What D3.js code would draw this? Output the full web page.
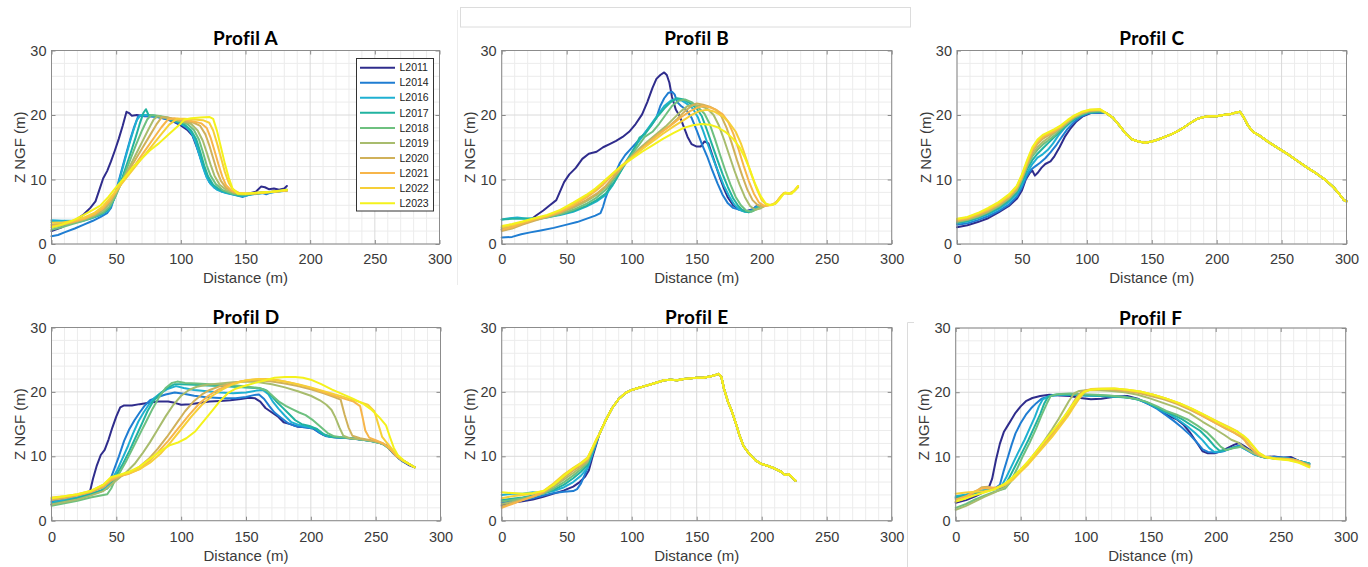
<!DOCTYPE html>
<html>
<head>
<meta charset="utf-8">
<script src="https://cdn.jsdelivr.net/npm/d3@7"></script>
<style>
  html, body { margin: 0; padding: 0; background: #fff; }
  svg { display: block; }
  text { font-variant-ligatures: none; font-feature-settings: "liga" 0; }
</style>
</head>
<body>
<svg id="chart" width="1368" height="567"></svg>
<script>
// Survey years (one line per year in every profile)
const years = ["L2011", "L2014", "L2016", "L2017", "L2018", "L2019", "L2020", "L2021", "L2022", "L2023"];
const titles = ["Profil A", "Profil B", "Profil C", "Profil D", "Profil E", "Profil F"];
const xTicks = [0, 50, 100, 150, 200, 250, 300];
const yTicks = [0, 10, 20, 30];

// Profile A : [distance (m), Z NGF (m)] per year
const profilA = [
  [[0,2.0],[8,2.6],[15,3.3],[20,3.9],[25,4.6],[30,5.6],[34,6.6],[37,8.4],[40,10.2],[43,11.3],[46,12.8],[49,14.5],[52,16.3],[55,18.3],[58,20.5],[60,20.3],[62,19.9],[66,20.0],[72,19.8],[80,19.8],[88,19.4],[95,18.9],[100,18.4],[105,17.7],[109,16.8],[112,15.2],[115,13.5],[118,11.8],[121,10.2],[124,9.2],[128,8.6],[134,8.1],[140,7.8],[147,7.5],[152,7.8],[158,8.1],[162,8.9],[165,8.8],[168,8.5],[172,8.6],[176,8.4],[180,8.6],[182,9.0]],
  [[0,1.2],[5,1.4],[10,1.8],[18,2.4],[25,3.0],[32,3.6],[38,4.2],[43,4.8],[46,5.6],[49,7.5],[52,9.8],[55,12],[58,14.2],[61,16.3],[64,18.2],[67,19.8],[70,19.9],[76,19.8],[84,19.6],[92,19.2],[100,18.6],[106,17.8],[110,16.6],[113,14.8],[116,12.8],[119,10.9],[122,9.6],[126,8.7],[132,8.1],[140,7.7],[148,7.3],[155,7.8],[162,8.0],[166,7.7],[170,8.0],[176,8.2],[182,8.4]],
  [[0,3.7],[8,3.6],[15,3.6],[22,3.5],[30,3.9],[38,4.5],[44,5.2],[48,6.8],[51,8.8],[54,11],[57,13.2],[60,15.4],[63,17.4],[66,19.2],[69,20.0],[74,20.0],[82,19.8],[90,19.4],[98,18.9],[104,18.2],[108,17.3],[111,16],[114,14],[117,12],[120,10.3],[123,9.3],[128,8.4],[135,7.9],[142,7.6],[148,7.4],[155,7.7],[165,7.9],[175,8.1],[182,8.3]],
  [[0,3.4],[8,3.3],[16,3.4],[25,3.7],[33,4.2],[40,4.8],[45,5.6],[49,7.2],[53,9.3],[57,11.6],[61,14],[65,16.5],[68,18.5],[71,20.3],[73,20.9],[75,20.0],[80,19.9],[88,19.6],[96,19.1],[103,18.5],[108,17.6],[112,16.2],[115,14.3],[118,12.2],[121,10.5],[125,9.2],[130,8.4],[137,7.9],[145,7.5],[152,7.6],[162,7.9],[172,8.1],[182,8.3]],
  [[0,2.2],[8,2.6],[16,3.1],[25,3.6],[33,4.2],[40,4.9],[45,5.8],[50,7.6],[55,10],[60,12.6],[65,15.2],[70,17.6],[74,19.3],[77,20.0],[82,19.9],[90,19.6],[98,19.1],[105,18.6],[110,17.7],[114,16.2],[117,14.3],[120,12.2],[123,10.6],[127,9.3],[132,8.4],[140,7.8],[148,7.6],[156,7.8],[166,8.0],[176,8.2],[182,8.4]],
  [[0,2.5],[8,2.9],[16,3.3],[25,3.8],[33,4.4],[40,5.2],[46,6.5],[52,8.6],[58,11],[64,13.4],[70,15.8],[75,17.8],[79,19.3],[82,19.8],[88,19.6],[95,19.3],[102,19.0],[108,18.6],[113,17.6],[117,16],[120,14.2],[123,12.3],[126,10.6],[130,9.2],[135,8.4],[142,7.9],[150,7.7],[160,7.9],[170,8.1],[182,8.3]],
  [[0,3.0],[8,3.1],[16,3.4],[25,3.9],[33,4.6],[40,5.5],[46,6.9],[52,8.8],[58,10.8],[64,12.8],[70,14.8],[76,16.8],[81,18.5],[85,19.6],[90,19.6],[97,19.3],[104,19.0],[110,18.8],[115,18.3],[119,17],[122,15.3],[125,13.3],[128,11.3],[131,9.8],[135,8.7],[141,8.0],[148,7.8],[158,7.9],[170,8.1],[182,8.3]],
  [[0,2.8],[8,3.0],[16,3.4],[25,3.9],[33,4.6],[40,5.6],[46,7.0],[52,8.8],[58,10.5],[65,12.4],[72,14.4],[79,16.4],[85,18.1],[90,19.3],[95,19.5],[102,19.3],[110,19.0],[116,18.7],[120,18.0],[123,16.5],[126,14.5],[129,12.4],[132,10.5],[135,9.1],[139,8.3],[145,7.9],[152,7.8],[162,7.9],[172,8.1],[182,8.3]],
  [[0,3.3],[8,3.3],[16,3.6],[25,4.1],[33,4.8],[40,5.9],[46,7.3],[53,9.0],[60,10.8],[68,12.8],[76,14.8],[84,16.8],[91,18.5],[97,19.4],[103,19.4],[110,19.3],[117,19.2],[122,18.8],[125,17.6],[128,15.6],[131,13.4],[134,11.2],[137,9.5],[140,8.5],[145,7.9],[152,7.8],[162,7.9],[172,8.1],[182,8.3]],
  [[0,2.6],[8,3.0],[16,3.6],[25,4.5],[32,5.3],[38,6.0],[44,7.3],[50,8.8],[57,10.4],[63,11.9],[70,13.3],[76,14.5],[83,15.6],[89,16.7],[95,17.8],[100,18.7],[103,19.3],[108,19.5],[115,19.6],[122,19.7],[125,19.4],[128,17.5],[131,15],[134,12.5],[137,10.3],[140,8.6],[144,7.8],[150,7.8],[160,8.0],[170,8.1],[182,8.4]]
];

// Profile B
const profilB = [
  [[0,2.2],[8,2.6],[15,3.1],[22,3.7],[27,4.5],[32,5.2],[37,6],[42,6.8],[45,8.2],[48,9.6],[52,10.8],[57,11.8],[62,13.2],[67,14],[73,14.3],[78,15],[83,15.5],[88,16],[93,16.6],[98,17.4],[103,18.6],[108,20.1],[112,22],[116,24.2],[119,25.6],[122,26.2],[125,26.6],[127,26.2],[129,25],[131,22.8],[134,20.8],[137,19.8],[140,18.2],[143,16.6],[146,15.5],[150,15.1],[153,15.1],[156,15.9],[159,15.6],[162,13.8],[165,12],[168,10.2],[171,8.6],[174,7.2],[178,6],[183,5.3],[188,5.1],[193,5.4],[197,6.0]],
  [[0,1.0],[8,1.1],[15,1.5],[22,1.8],[30,2.1],[40,2.5],[50,3.0],[58,3.4],[65,3.9],[72,4.4],[76,4.8],[78,5.8],[80,7.2],[83,8.8],[87,10.8],[91,12.6],[95,13.8],[100,14.9],[105,16],[110,17.2],[115,18.4],[119,19.6],[122,21.4],[125,22.6],[128,23.4],[131,23.6],[133,23.2],[135,22],[138,21.4],[142,20.8],[146,19.6],[150,17.6],[154,15.5],[158,13.6],[162,11.4],[166,9.4],[170,7.6],[174,6.3],[178,5.6],[183,5.3],[188,5.0],[193,5.3],[197,6.0]],
  [[0,3.8],[6,4.0],[12,4.1],[20,3.9],[28,4.0],[36,4.2],[45,4.5],[55,5.0],[65,5.8],[73,6.6],[80,7.6],[85,9.0],[90,10.8],[95,12.6],[100,14.2],[105,15.8],[110,17.2],[115,18.6],[120,20],[125,21.4],[130,22.2],[134,22.5],[138,22.3],[142,21.8],[147,21],[151,19.6],[155,17.5],[159,15.2],[163,13],[167,11],[171,9],[175,7.4],[179,6.1],[183,5.3],[187,5.0],[192,5.1],[197,5.8]],
  [[0,3.8],[8,3.9],[16,3.9],[25,4.0],[35,4.2],[45,4.6],[55,5.1],[65,5.9],[73,6.8],[80,7.8],[86,9.4],[92,11.4],[98,13.4],[103,15.2],[106,16.5],[110,17],[115,18.4],[120,19.8],[125,21],[130,22],[135,22.6],[140,22.4],[145,21.8],[150,21],[154,19.8],[158,17.6],[162,15.3],[166,13],[170,10.8],[174,8.8],[178,7.1],[182,5.9],[186,5.1],[190,4.9],[195,5.3],[199,6.0]],
  [[0,2.6],[8,2.9],[16,3.3],[25,3.7],[35,4.1],[45,4.6],[55,5.3],[65,6.2],[73,7.2],[80,8.4],[87,10.2],[93,12],[99,13.6],[105,15.2],[110,16.6],[116,17.4],[121,18.6],[126,20],[131,21.4],[136,22.2],[141,22.4],[146,22],[151,21.2],[156,20.2],[160,18.6],[164,16.3],[168,13.8],[172,11.4],[176,9.2],[180,7.3],[184,6.0],[188,5.2],[192,5.0],[197,5.5],[200,6.0]],
  [[0,2.4],[8,2.8],[16,3.3],[25,3.8],[35,4.2],[45,4.8],[55,5.6],[65,6.6],[73,7.6],[80,8.8],[87,10.6],[93,12.2],[100,13.6],[107,15],[114,16.2],[120,17.2],[126,18.2],[132,19.4],[138,20.6],[143,21.4],[148,21.6],[153,21.4],[158,21],[163,20],[167,18.4],[171,16.2],[175,13.8],[179,11.4],[183,9.2],[187,7.3],[191,5.9],[195,5.3],[199,5.5],[203,6.0]],
  [[0,2.0],[8,2.4],[16,3.0],[25,3.6],[35,4.2],[45,4.9],[55,5.8],[65,6.8],[73,7.8],[80,9.0],[87,10.6],[94,12.2],[101,13.6],[108,15],[115,16.2],[122,17.3],[129,18.3],[135,19.4],[141,20.6],[146,21.4],[150,21.8],[155,21.6],[160,21.3],[165,20.8],[169,19.8],[173,18],[177,15.6],[181,13],[185,10.6],[189,8.4],[193,6.8],[197,6.0],[201,5.8],[205,6.0],[210,6.2],[214,7.2],[217,7.9],[221,7.8],[225,8.2],[228,8.8]],
  [[0,2.2],[8,2.6],[16,3.2],[25,3.8],[35,4.3],[45,5.0],[55,6.0],[65,7.2],[72,8.2],[78,9.2],[85,10.6],[92,12],[100,13.4],[108,14.8],[116,16.2],[124,17.5],[132,18.7],[139,19.8],[145,20.6],[150,21.1],[155,21.4],[160,21.2],[165,20.8],[170,20.1],[174,19],[178,17.2],[182,14.8],[186,12.2],[190,9.8],[194,7.8],[198,6.4],[202,5.9],[206,6.0],[210,6.2],[214,7.2],[217,7.9],[221,7.8],[225,8.2],[228,8.9]],
  [[0,2.6],[8,2.9],[16,3.4],[25,3.9],[35,4.4],[45,5.2],[55,6.2],[65,7.4],[72,8.4],[78,9.6],[85,10.8],[92,12.1],[100,13.4],[108,14.7],[116,15.9],[124,17.1],[132,18.2],[140,19.2],[146,20],[152,20.6],[158,20.8],[164,20.5],[170,19.8],[175,18.8],[180,17.4],[184,15.6],[188,13.3],[192,10.8],[196,8.6],[200,6.8],[204,6.0],[208,6.1],[212,6.6],[215,7.5],[218,8.0],[222,7.8],[225,8.3],[228,9.0]],
  [[0,2.8],[8,3.1],[16,3.5],[25,4.0],[35,4.5],[45,5.3],[55,6.4],[65,7.6],[72,8.6],[78,9.6],[85,10.9],[92,12.1],[100,13.2],[108,14.3],[116,15.3],[124,16.3],[132,17.2],[140,18],[147,18.4],[154,18.6],[160,18.5],[166,18.1],[172,17.4],[178,16.3],[183,15],[187,13.4],[191,11.5],[195,9.3],[199,7.5],[203,6.3],[207,6.0],[211,6.3],[214,7.0],[217,7.8],[220,7.9],[223,7.8],[226,8.4],[228,9.0]]
];

// Profile C : seaward slope per year, then a common dune ridge
const profilCLeft = [
  [[0,2.6],[8,2.9],[16,3.4],[24,4.0],[32,4.9],[40,5.9],[46,7.0],[50,8.3],[53,10],[56,11],[58,11.4],[60,10.6],[62,11.0],[65,11.8],[68,12.4],[72,12.8],[75,13.6],[79,15],[83,16.6],[87,17.8],[92,19],[97,19.8],[103,20.3],[110,20.4]],
  [[0,3.0],[8,3.2],[16,3.7],[24,4.3],[32,5.1],[40,6.1],[46,7.3],[50,8.8],[54,10.6],[57,11.5],[60,12.0],[64,12.6],[68,13.3],[72,14.2],[76,15.2],[80,16.4],[85,17.8],[90,18.9],[96,19.8],[102,20.3],[110,20.4]],
  [[0,3.2],[8,3.5],[16,4.0],[24,4.6],[32,5.4],[40,6.5],[46,7.7],[50,9.2],[54,11.0],[58,12.4],[62,13.4],[66,13.9],[70,14.6],[74,15.6],[78,16.8],[83,18],[88,19],[94,19.8],[100,20.3],[110,20.5]],
  [[0,3.3],[8,3.6],[16,4.1],[24,4.8],[32,5.6],[40,6.8],[46,8.0],[50,9.6],[54,11.6],[58,13],[62,14],[66,14.8],[70,15.6],[75,16.6],[80,17.6],[85,18.5],[90,19.3],[96,20],[102,20.4],[110,20.5]],
  [[0,3.4],[8,3.7],[16,4.2],[24,4.9],[32,5.8],[40,7.0],[46,8.3],[50,10],[54,12],[58,13.6],[62,14.6],[66,15.4],[70,16.0],[75,16.8],[80,17.8],[85,18.7],[90,19.5],[96,20.1],[102,20.5],[110,20.6]],
  [[0,3.5],[8,3.8],[16,4.3],[24,5.0],[32,5.9],[40,7.1],[46,8.4],[50,10.1],[54,12.1],[58,13.9],[62,15],[66,15.8],[70,16.4],[75,17.2],[80,18],[85,18.8],[90,19.6],[96,20.2],[102,20.6],[110,20.7]],
  [[0,3.6],[8,3.9],[16,4.5],[24,5.2],[32,6.1],[40,7.3],[46,8.6],[50,10.3],[54,12.4],[58,14.3],[62,15.5],[66,16.3],[70,16.8],[75,17.4],[80,18.1],[85,19],[90,19.7],[96,20.3],[102,20.7],[110,20.8]],
  [[0,3.7],[8,4.0],[16,4.6],[24,5.3],[32,6.2],[40,7.4],[46,8.8],[50,10.4],[54,12.6],[58,14.6],[62,15.8],[66,16.6],[70,17.0],[75,17.5],[80,18.2],[85,19],[90,19.8],[96,20.4],[102,20.7],[110,20.8]],
  [[0,3.8],[8,4.1],[16,4.7],[24,5.4],[32,6.3],[40,7.5],[46,8.9],[50,10.6],[54,12.8],[58,14.8],[62,16],[66,16.8],[70,17.2],[75,17.7],[80,18.3],[85,19.1],[90,19.8],[96,20.4],[102,20.8],[110,20.9]],
  [[0,3.9],[8,4.2],[16,4.8],[24,5.6],[32,6.5],[40,7.7],[46,9.0],[50,10.8],[54,13.0],[58,15],[62,16.2],[66,16.9],[70,17.3],[75,17.8],[80,18.4],[85,19.2],[90,19.9],[96,20.5],[102,20.8],[110,20.9]]
];
const profilCRidge = [[115,20.3],[120,19.6],[125,18.4],[130,17.1],[135,16.2],[140,15.9],[145,15.7],[150,15.9],[155,16.2],[160,16.6],[165,17.0],[170,17.5],[175,18.1],[180,18.8],[185,19.4],[190,19.7],[195,19.8],[200,19.8],[205,20.0],[210,20.1],[215,20.4],[218,20.5],[221,19.6],[224,18.4],[228,17.4],[233,16.8],[240,15.8],[247,14.9],[255,13.9],[262,12.9],[270,11.8],[277,10.9],[284,9.9],[290,8.8],[295,7.6],[298,6.8],[300,6.6]];
const profilC = profilCLeft.map(s => s.concat(profilCRidge));

// Profile D
const profilD = [
  [[0,2.5],[10,3.0],[20,3.4],[27,3.9],[30,4.8],[32,6.5],[35,8.6],[38,10.2],[41,11],[44,12.6],[47,14.5],[50,16.2],[53,17.6],[56,17.9],[62,17.9],[68,18.1],[75,18.3],[82,18.5],[90,18.5],[95,18.3],[100,18.0],[107,18.1],[115,18.3],[122,18.5],[130,18.6],[138,18.7],[146,18.9],[152,19.1],[157,19.0],[161,18.5],[165,17.5],[170,16.8],[175,16.1],[179,15.3],[184,15.0],[190,14.6],[196,14.5],[202,14.3],[206,13.8],[210,13.3],[216,13.0],[222,12.9],[230,12.8],[238,12.6],[246,12.4],[252,12.2],[258,11.7],[263,10.6],[267,9.8],[272,9.1],[276,8.6],[280,8.3]],
  [[0,3.0],[10,3.3],[20,3.6],[30,4.1],[38,4.5],[42,5.0],[45,6.2],[48,7.8],[52,10],[56,12.4],[60,14.2],[64,15.6],[68,16.8],[72,17.9],[76,18.7],[82,19.2],[88,19.6],[95,19.9],[102,19.7],[110,19.4],[118,19.2],[126,19.1],[134,19.0],[142,19.0],[150,19.2],[156,19.5],[160,19.6],[164,18.9],[168,17.8],[172,16.8],[177,16.0],[182,15.2],[188,14.7],[195,14.5],[202,14.3],[207,13.6],[212,13.1],[220,12.9],[230,12.8],[240,12.6],[250,12.3],[258,11.7],[264,10.4],[270,9.3],[280,8.3]],
  [[0,2.8],[10,3.2],[20,3.6],[30,4.2],[38,4.7],[43,5.3],[47,6.5],[51,8],[55,9.8],[59,11.6],[63,13.6],[67,15.4],[71,16.8],[75,18],[79,19],[84,19.8],[90,20.5],[96,20.9],[102,20.6],[110,20.3],[120,20.1],[130,19.9],[140,19.8],[150,19.9],[158,20.2],[163,20.3],[167,19.7],[171,18.4],[175,17.4],[180,16.3],[185,15.3],[190,14.9],[197,14.6],[204,14.3],[209,13.5],[215,13],[225,12.9],[235,12.7],[245,12.4],[255,12.0],[262,11],[268,9.7],[280,8.3]],
  [[0,2.6],[10,3.0],[20,3.5],[30,4.1],[38,4.6],[43,5.0],[47,6.0],[51,7.4],[55,8.8],[60,10.8],[65,13],[70,15.2],[74,17],[78,18.4],[83,19.6],[89,20.6],[95,21.2],[100,21.2],[110,21.1],[120,21.0],[130,20.9],[140,20.8],[150,20.7],[160,20.6],[165,20.3],[169,19.5],[173,18.6],[178,17.6],[183,16.6],[188,15.6],[193,15.0],[199,14.7],[205,14.2],[210,13.4],[216,13.0],[226,12.9],[236,12.7],[246,12.4],[255,12.0],[262,11],[268,9.7],[280,8.3]],
  [[0,2.3],[10,2.7],[20,3.1],[30,3.6],[38,3.9],[43,4.1],[46,5],[49,6.3],[53,7.6],[58,9.4],[63,11.4],[68,13.4],[73,15.4],[78,17.4],[83,19.2],[88,20.6],[93,21.4],[97,21.6],[103,21.4],[112,21.3],[122,21.2],[132,21.1],[142,21.0],[152,20.8],[160,20.6],[166,20.2],[171,19.3],[176,18.4],[181,17.8],[186,17.3],[191,16.8],[196,16.4],[201,15.7],[205,15.0],[209,14.3],[213,13.6],[218,13.1],[226,12.9],[236,12.7],[246,12.4],[255,12.0],[262,11],[268,9.7],[280,8.3]],
  [[0,2.5],[10,2.9],[20,3.3],[30,3.9],[40,4.6],[46,5.6],[52,6.6],[58,7.6],[64,8.8],[70,10.4],[76,12.2],[82,14.2],[88,16.2],[94,18],[100,19.4],[106,20.3],[112,20.8],[120,21.1],[130,21.3],[140,21.5],[150,21.6],[160,21.5],[170,21.2],[180,20.7],[190,20.1],[200,19.4],[207,18.7],[212,18],[216,17.2],[219,16],[222,14.5],[225,13.2],[230,12.8],[240,12.6],[250,12.3],[257,11.8],[263,10.7],[268,9.7],[280,8.3]],
  [[0,3.2],[10,3.5],[20,3.9],[30,4.4],[40,5.2],[46,6.2],[52,6.8],[60,7.4],[68,8.4],[75,9.6],[82,11.2],[89,13],[96,15],[103,17],[110,18.6],[116,19.6],[122,20.3],[130,20.9],[140,21.4],[150,21.7],[160,21.8],[170,21.6],[180,21.3],[190,20.9],[200,20.4],[210,19.8],[218,19.2],[223,18.8],[226,16.5],[229,14.5],[232,13.2],[238,12.8],[246,12.5],[253,12.2],[258,11.7],[263,10.7],[268,9.7],[280,8.3]],
  [[0,3.4],[10,3.7],[20,4.0],[30,4.5],[40,5.4],[46,6.4],[52,6.9],[60,7.3],[68,8],[75,9.2],[82,10.6],[90,12.4],[98,14.4],[106,16.4],[114,18.2],[121,19.4],[128,20.3],[136,21],[145,21.6],[155,21.9],[165,22],[175,21.8],[185,21.4],[195,20.9],[205,20.3],[215,19.6],[225,19],[233,18.5],[238,17.8],[240,16],[242,14],[245,12.9],[250,12.5],[256,12.0],[261,11.2],[266,10],[280,8.3]],
  [[0,3.6],[10,3.8],[20,4.1],[30,4.6],[40,5.6],[46,6.6],[52,7],[60,7.4],[68,8],[76,9],[84,10.4],[92,12.2],[100,14.2],[108,16.2],[116,18],[124,19.4],[132,20.4],[140,21.2],[150,21.8],[160,22],[170,21.9],[180,21.6],[190,21.2],[200,20.7],[212,20],[224,19.3],[235,18.6],[244,18.0],[249,17],[252,15],[255,13],[259,12],[264,10.8],[270,9.4],[280,8.3]],
  [[0,3.5],[10,3.8],[20,4.1],[30,4.6],[40,5.6],[46,6.8],[52,7.1],[60,7.6],[68,8.4],[76,9.6],[84,10.8],[91,11.7],[97,12.1],[104,12.8],[111,13.9],[118,15.6],[124,17.1],[130,18.6],[136,19.8],[142,20.5],[150,21.0],[157,21.4],[165,21.8],[172,22.2],[180,22.3],[188,22.3],[194,22.2],[200,21.9],[208,21.2],[216,20.4],[224,19.7],[232,19],[240,18.2],[247,17.2],[253,16.0],[258,14.8],[261,13],[264,11.3],[267,10.2],[272,9.3],[280,8.3]]
];

// Profile E : beach part per year, then a common dune body
const profilELeft = [
  [[0,2.4],[8,2.8],[16,3.0],[24,3.3],[32,3.7],[40,4.2],[48,4.7],[55,5.3],[60,6.0],[64,6.8],[67,7.8],[70,10],[73,12]],
  [[0,2.8],[8,3.0],[16,3.2],[24,3.5],[32,3.9],[40,4.3],[48,4.5],[55,4.6],[58,4.9],[61,5.8],[64,7.2],[67,8.6],[70,10.4],[73,12.2]],
  [[0,4.0],[8,4.2],[16,4.2],[24,4.4],[32,4.3],[40,4.6],[48,5.2],[55,6.0],[61,7.0],[66,8.2],[70,10.6],[73,12.3]],
  [[0,3.2],[8,3.4],[16,3.6],[24,3.9],[32,4.2],[40,4.8],[48,5.6],[55,6.6],[61,7.6],[66,8.6],[70,10.8],[73,12.4]],
  [[0,3.0],[8,3.2],[16,3.5],[24,3.8],[32,4.2],[40,5.0],[48,6.0],[55,7.0],[61,8.0],[66,9.0],[70,11],[73,12.5]],
  [[0,2.6],[8,2.9],[16,3.3],[24,3.7],[32,4.3],[40,5.3],[48,6.4],[55,7.4],[61,8.3],[66,9.2],[70,11.1],[73,12.5]],
  [[0,2.2],[8,2.7],[16,3.2],[24,3.7],[32,4.4],[40,5.5],[48,6.7],[55,7.8],[61,8.6],[66,9.4],[70,11.2],[73,12.6]],
  [[0,2.0],[8,2.6],[16,3.2],[24,3.8],[32,4.5],[40,5.7],[48,7.0],[55,8.0],[61,8.8],[66,9.6],[70,11.3],[73,12.6]],
  [[0,3.5],[8,3.8],[16,4.0],[24,4.2],[32,4.6],[40,5.8],[48,7.2],[55,8.2],[61,9.0],[66,9.8],[70,11.4],[73,12.7]],
  [[0,4.4],[8,4.3],[16,4.2],[24,4.3],[32,4.6],[40,5.6],[48,7.0],[55,8.1],[61,8.9],[66,9.7],[70,11.4],[73,12.7]]
];
const profilEDune = [[75,13.4],[80,15.6],[85,17.5],[90,18.9],[95,19.8],[100,20.3],[105,20.6],[110,20.9],[115,21.2],[120,21.5],[125,21.8],[130,21.9],[135,21.8],[140,22.0],[145,22.1],[150,22.2],[155,22.2],[160,22.4],[164,22.6],[167,22.8],[169,22.3],[171,20.5],[174,18.5],[177,17],[180,15.2],[183,13.2],[186,11.6],[190,10.5],[195,9.4],[200,8.8],[205,8.5],[210,8.1],[215,7.6],[218,7.1],[221,7.2],[223,6.8],[226,6.2]];
const profilE = profilELeft.map(s => s.concat(profilEDune));

// Profile F
const profilF = [
  [[0,2.8],[8,3.2],[15,3.8],[20,4.3],[25,4.9],[28,6.5],[31,9.5],[34,12],[37,13.8],[40,14.8],[43,15.8],[46,16.8],[50,17.8],[54,18.6],[59,19.1],[65,19.4],[72,19.6],[80,19.5],[88,19.4],[96,19.1],[104,18.9],[112,19.0],[122,19.3],[132,19.4],[140,19.0],[148,18.2],[155,17.6],[160,16.8],[165,16.2],[170,15.8],[175,15],[180,13.8],[185,12.3],[190,10.8],[194,10.5],[199,10.5],[204,10.8],[209,11.3],[214,11.8],[218,12.1],[222,11.6],[227,10.9],[233,10.2],[238,9.9],[245,10.0],[252,9.8],[258,9.9],[264,9.3],[272,8.8]],
  [[0,3.5],[8,3.9],[15,4.3],[22,4.7],[30,5.0],[34,5.6],[37,7.8],[40,9.8],[43,11.8],[46,13.6],[50,15.2],[54,16.5],[58,17.5],[62,18.3],[66,19.0],[72,19.4],[80,19.6],[90,19.6],[100,19.5],[110,19.5],[120,19.4],[130,19.3],[140,18.9],[148,18.2],[155,17.4],[162,16.4],[168,15.5],[174,14.5],[180,13.4],[185,12.3],[190,11.1],[194,10.7],[200,10.6],[206,10.8],[212,11.3],[218,11.7],[224,11.0],[230,10.3],[236,9.9],[245,9.9],[255,9.8],[262,9.4],[272,8.9]],
  [[0,3.8],[8,4.1],[15,4.5],[22,4.8],[30,5.0],[35,5.3],[39,6.8],[43,8.5],[48,10.6],[53,12.6],[57,14.4],[61,16.2],[64,17.8],[67,18.9],[72,19.4],[80,19.6],[90,19.6],[100,19.5],[110,19.4],[120,19.3],[130,19.2],[140,18.9],[150,18.1],[158,17.2],[165,16.5],[172,15.6],[178,14.7],[184,13.7],[190,12.5],[195,11.3],[199,10.7],[205,10.8],[212,11.3],[218,11.6],[224,11.0],[230,10.3],[236,9.9],[245,9.8],[255,9.7],[262,9.4],[272,8.9]],
  [[0,3.6],[8,3.9],[15,4.3],[22,4.6],[30,4.9],[37,5.2],[41,6.6],[46,8.6],[51,10.6],[56,12.6],[61,14.8],[65,16.6],[68,18.2],[71,19.3],[76,19.6],[85,19.7],[95,19.6],[105,19.5],[115,19.4],[125,19.3],[135,19.1],[145,18.6],[153,17.8],[160,17.1],[167,16.5],[174,15.8],[181,14.9],[188,14],[194,12.8],[199,11.6],[203,10.9],[208,11.0],[214,11.4],[220,11.5],[226,10.9],[232,10.2],[238,9.8],[248,9.7],[258,9.6],[272,8.8]],
  [[0,2.0],[8,2.6],[15,3.3],[22,3.9],[30,4.5],[38,5.0],[42,6.0],[47,8],[52,10.2],[57,12.2],[62,14.4],[66,16.4],[70,18.2],[73,19.4],[78,19.7],[88,19.8],[98,19.7],[108,19.6],[118,19.5],[128,19.3],[138,19.0],[147,18.5],[155,17.8],[162,17.1],[170,16.5],[178,15.8],[186,14.8],[193,13.8],[199,12.6],[204,11.5],[208,11.0],[214,11.3],[220,11.5],[226,10.9],[232,10.2],[238,9.8],[248,9.7],[258,9.6],[272,8.8]],
  [[0,1.7],[8,2.3],[15,3.0],[22,3.7],[30,4.4],[38,5.2],[44,6.4],[50,7.8],[56,9.2],[62,10.8],[68,12.4],[74,14.2],[79,15.8],[83,17.2],[87,18.6],[91,19.8],[95,20.2],[100,20.3],[110,20.3],[120,20.2],[130,20.0],[140,19.6],[150,19.0],[160,18.3],[170,17.6],[180,16.7],[190,15.4],[200,14.2],[207,13.3],[212,12.6],[217,12.2],[222,11.4],[228,10.6],[234,10.1],[240,9.8],[250,9.6],[260,9.5],[272,8.6]],
  [[0,3.0],[8,3.5],[15,4.5],[20,5.2],[25,5.3],[30,5.0],[36,5.4],[42,6.4],[48,7.6],[54,8.8],[60,10.2],[66,11.6],[72,13],[78,14.6],[84,16.3],[89,17.9],[93,19.2],[97,20.1],[102,20.4],[110,20.5],[120,20.4],[130,20.2],[140,19.9],[150,19.4],[160,18.9],[170,18.2],[180,17.3],[190,16.3],[200,15.2],[208,14.3],[214,13.7],[219,13.1],[223,12.4],[227,11.4],[231,10.5],[236,10.0],[245,9.7],[255,9.6],[262,9.4],[272,8.5]],
  [[0,3.3],[8,3.8],[15,4.6],[20,5.0],[26,5.1],[32,5.2],[38,5.6],[44,6.6],[50,7.8],[56,9.0],[62,10.4],[68,11.8],[74,13.2],[80,14.8],[86,16.5],[91,18.2],[95,19.4],[99,20.2],[104,20.4],[112,20.5],[122,20.5],[132,20.3],[142,20],[152,19.6],[162,19.0],[172,18.2],[182,17.2],[192,16.1],[202,15.0],[210,14.2],[216,13.5],[221,13],[224,12],[228,11.2],[233,10.3],[238,9.9],[246,9.7],[256,9.6],[264,9.3],[272,8.5]],
  [[0,4.2],[8,4.4],[15,4.5],[22,4.6],[30,4.9],[38,5.6],[44,6.4],[50,7.6],[56,8.8],[62,10.2],[68,11.6],[74,13],[80,14.6],[86,16.2],[91,17.8],[95,19],[99,20],[104,20.5],[112,20.6],[122,20.6],[132,20.4],[142,20.1],[152,19.6],[162,19.0],[172,18.3],[182,17.4],[192,16.4],[202,15.4],[210,14.6],[216,14],[221,13.2],[225,12.4],[229,11.5],[233,10.6],[238,10],[246,9.7],[256,9.5],[264,9.1],[272,8.4]],
  [[0,3.0],[8,3.5],[15,4.0],[22,4.4],[30,4.9],[38,5.8],[44,6.8],[50,8.0],[56,9.3],[62,10.8],[68,12.3],[74,13.8],[80,15.3],[86,16.9],[91,18.4],[95,19.4],[99,20.1],[104,20.4],[112,20.5],[122,20.6],[132,20.4],[142,20.1],[152,19.6],[162,19.0],[172,18.3],[182,17.4],[192,16.4],[202,15.3],[210,14.5],[216,13.9],[221,13.3],[225,12.6],[229,11.6],[233,10.6],[238,9.9],[246,9.6],[256,9.4],[264,9.0],[272,8.3]]
];

const profiles = [profilA, profilB, profilC, profilD, profilE, profilF];

// Year colours (blue -> yellow sequence)
const palette = ["#2f2c8c", "#1f7dd2", "#1fb0d2", "#21b3a0", "#6ec07f", "#a8bc6d", "#d0b15a", "#f7b54a", "#f6cf38", "#f4f21c"];

// Plot rectangles of the 2 x 3 grid
const layout = [
  { left: 51.5,  right: 439.5,  top: 50.5,  bottom: 244,   row: 0 },
  { left: 501.7, right: 891.7,  top: 50.5,  bottom: 244,   row: 0 },
  { left: 957,   right: 1346.5, top: 50.5,  bottom: 244,   row: 0 },
  { left: 51.5,  right: 440.5,  top: 327.5, bottom: 520.7, row: 1 },
  { left: 501.7, right: 891.7,  top: 327.5, bottom: 520.7, row: 1 },
  { left: 955.7, right: 1345.7, top: 328,   bottom: 520.7, row: 1 }
];

const svg = d3.select("#chart");
const tickFont = "'Liberation Sans', Arial, sans-serif";

// faint frame lines around the composed panels
const frame = svg.append("g").attr("fill", "none").attr("stroke", "#dcdcdc").attr("stroke-width", 1);
frame.append("rect").attr("x", 460.5).attr("y", 7.5).attr("width", 450).attr("height", 19.5);
frame.append("line").attr("x1", 457.5).attr("x2", 457.5).attr("y1", 10).attr("y2", 285).attr("stroke", "#ececec");
frame.append("path").attr("d", "M914,322.5 H907.5 V567");

profiles.forEach((series, p) => {
  const L = layout[p];
  const x = d3.scaleLinear().domain([0, 300]).range([L.left, L.right]);
  const y = d3.scaleLinear().domain([0, 30]).range([L.bottom, L.top]);
  const g = svg.append("g");

  // minor grid
  const minorX = d3.range(10, 300, 10).filter(v => v % 50 !== 0);
  const minorY = d3.range(2, 30, 2).filter(v => v % 10 !== 0);
  const grid = g.append("g").attr("stroke-width", 1);
  grid.selectAll(".mx").data(minorX).join("line")
    .attr("x1", d => x(d)).attr("x2", d => x(d)).attr("y1", L.top).attr("y2", L.bottom)
    .attr("stroke", "#ececec");
  grid.selectAll(".my").data(minorY).join("line")
    .attr("y1", d => y(d)).attr("y2", d => y(d)).attr("x1", L.left).attr("x2", L.right)
    .attr("stroke", "#ececec");
  // major grid
  grid.selectAll(".gx").data(xTicks).join("line")
    .attr("x1", d => x(d)).attr("x2", d => x(d)).attr("y1", L.top).attr("y2", L.bottom)
    .attr("stroke", "#dadada");
  grid.selectAll(".gy").data(yTicks).join("line")
    .attr("y1", d => y(d)).attr("y2", d => y(d)).attr("x1", L.left).attr("x2", L.right)
    .attr("stroke", "#dadada");

  // profile lines, oldest first so recent years sit on top
  const line = d3.line().x(d => x(d[0])).y(d => y(d[1]));
  g.append("g").selectAll("path").data(series).join("path")
    .attr("d", line)
    .attr("fill", "none")
    .attr("stroke", (d, i) => palette[i])
    .attr("stroke-width", 2)
    .attr("stroke-linejoin", "round")
    .attr("stroke-linecap", "round");

  // axes
  const pad = L.row === 0 ? 10 : 11;
  const ax = g.append("g").attr("transform", `translate(0,${L.bottom})`)
    .call(d3.axisBottom(x).tickValues(xTicks).tickSize(-4).tickPadding(pad));
  const ay = g.append("g").attr("transform", `translate(${L.left},0)`)
    .call(d3.axisLeft(y).tickValues(yTicks).tickSize(-4).tickPadding(5));
  const at = g.append("g").attr("transform", `translate(0,${L.top})`)
    .call(d3.axisTop(x).tickValues(xTicks).tickSize(-4).tickFormat(""));
  const ar = g.append("g").attr("transform", `translate(${L.right},0)`)
    .call(d3.axisRight(y).tickValues(yTicks).tickSize(-4).tickFormat(""));
  [ax, ay, at, ar].forEach(a => {
    a.select(".domain").remove();
    a.selectAll(".tick line").attr("stroke", "#8a8a8a");
    a.selectAll("text").attr("fill", "#3a3a3a")
      .style("font-family", tickFont).style("font-size", "14.5px");
  });

  // plot box
  g.append("rect").attr("x", L.left).attr("y", L.top)
    .attr("width", L.right - L.left).attr("height", L.bottom - L.top)
    .attr("fill", "none").attr("stroke", "#8c8c8c").attr("stroke-width", 1);

  // axis titles
  g.append("text")
    .attr("x", (L.left + L.right) / 2)
    .attr("y", L.bottom + (L.row === 0 ? 38.7 : 40))
    .attr("text-anchor", "middle")
    .attr("fill", "#3a3a3a")
    .style("font-family", tickFont).style("font-size", "15px")
    .text("Distance (m)");
  g.append("text")
    .attr("transform", `translate(${L.left - 26.5},${(L.top + L.bottom) / 2}) rotate(-90)`)
    .attr("text-anchor", "middle")
    .attr("fill", "#3a3a3a")
    .style("font-family", tickFont).style("font-size", "15px")
    .text("Z NGF (m)");

  // panel title (small letter spacing keeps "fi" as two glyphs)
  g.append("text")
    .attr("x", (L.left + L.right) / 2)
    .attr("y", L.top - (L.row === 0 ? 5.5 : 3.5))
    .attr("text-anchor", "middle")
    .attr("fill", "#000")
    .style("font-family", "Lato, 'Open Sans', sans-serif")
    .style("font-weight", "bold")
    .style("font-size", "19px")
    .style("letter-spacing", "0.3px")
    .text(titles[p]);

  // legend in the first panel
  if (p === 0) {
    const lg = g.append("g");
    lg.append("rect").attr("x", 356.5).attr("y", 58.5).attr("width", 77).attr("height", 152.5)
      .attr("fill", "#fff").attr("stroke", "#333").attr("stroke-width", 1);
    const item = lg.selectAll(".item").data(years).join("g")
      .attr("transform", (d, i) => `translate(0,${67.7 + i * 15.05})`);
    item.append("line").attr("x1", 360).attr("x2", 395)
      .attr("stroke", (d, i) => palette[i]).attr("stroke-width", 2);
    item.append("text").attr("x", 399.5).attr("dy", "0.35em")
      .attr("fill", "#222")
      .style("font-family", tickFont).style("font-size", "10.5px")
      .text(d => d);
  }
});
</script>
</body>
</html>
